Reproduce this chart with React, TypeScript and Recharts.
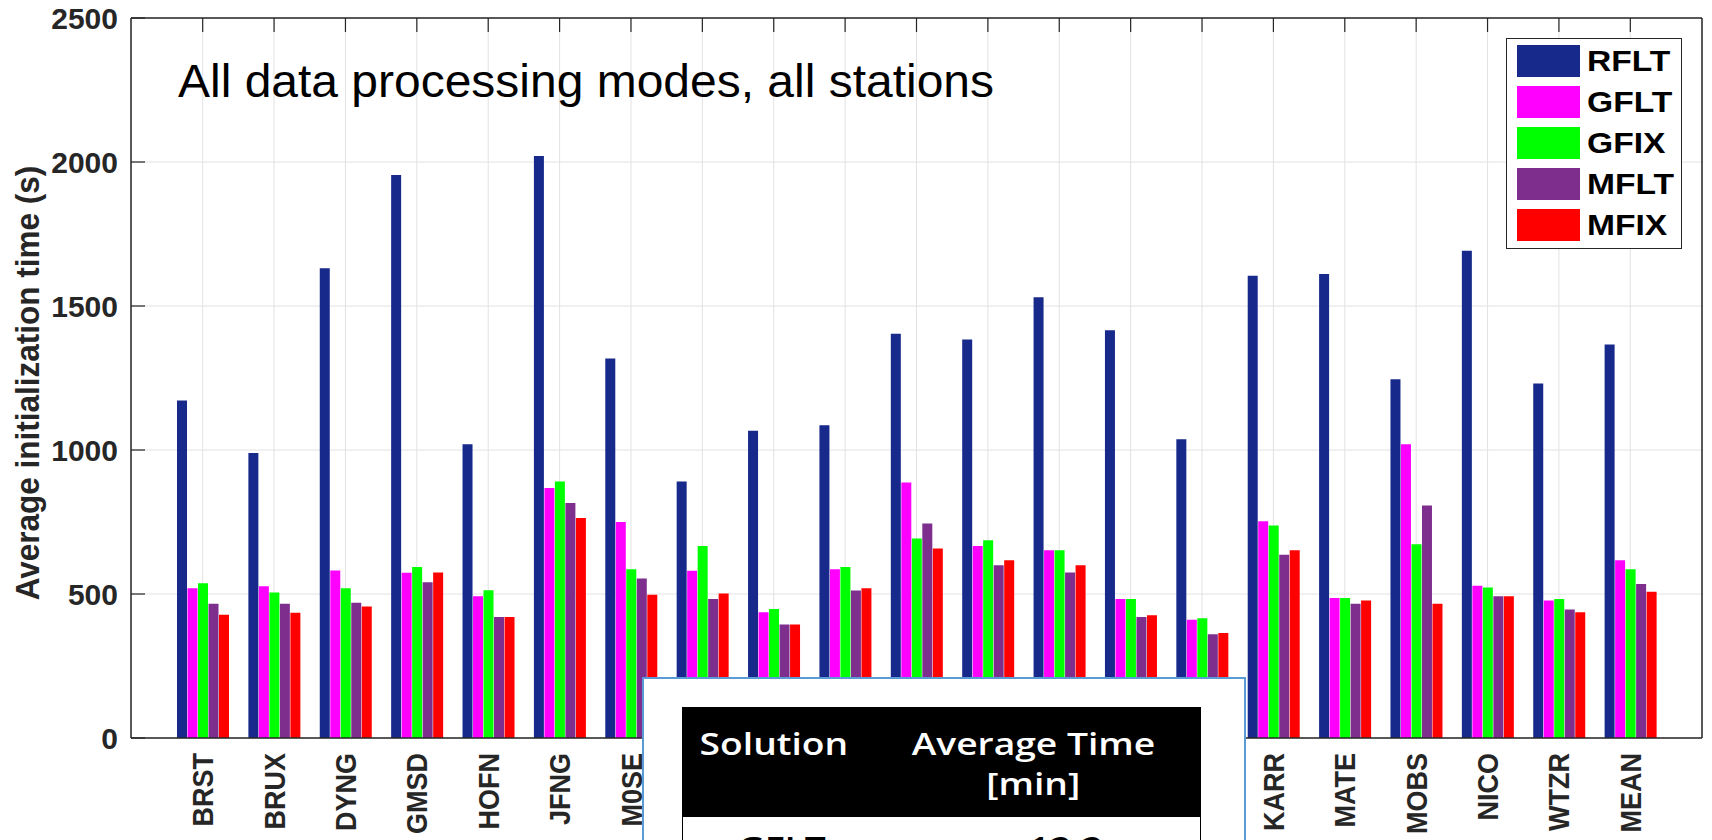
import React from 'react';
import { BarChart, Bar, XAxis, YAxis, CartesianGrid, Legend } from 'recharts';

// stations 8-15 sit under the pasted table in the source figure
const stations = ['BRST', 'BRUX', 'DYNG', 'GMSD', 'HOFN', 'JFNG', 'M0SE', 'ONSA', 'POTS', 'REDU', 'SGOC', 'TLSE', 'UNB3', 'YEL2', 'HARB', 'KARR', 'MATE', 'MOBS', 'NICO', 'WTZR', 'MEAN'];

const rflt = [1172, 990, 1631, 1955, 1020, 2021, 1318, 891, 1067, 1086, 1404, 1384, 1530, 1416, 1037, 1605, 1611, 1246, 1692, 1231, 1366];
const gflt = [520, 527, 582, 574, 492, 868, 750, 581, 437, 586, 887, 667, 652, 483, 411, 753, 486, 1020, 529, 477, 617];
const gfix = [537, 505, 520, 594, 513, 891, 586, 667, 448, 594, 693, 687, 652, 483, 416, 738, 486, 673, 523, 483, 586];
const mflt = [466, 466, 470, 541, 420, 816, 554, 483, 394, 512, 745, 600, 575, 420, 360, 636, 466, 807, 492, 446, 535];
const mfix = [428, 435, 457, 575, 420, 764, 497, 502, 394, 520, 658, 617, 600, 426, 365, 652, 477, 466, 492, 437, 508];

const seriesNames = ['RFLT', 'GFLT', 'GFIX', 'MFLT', 'MFIX'];
const seriesColors = ['#17298A', '#FF00FF', '#00FF00', '#7E2F8E', '#FF0000'];
const yTicks = [0, 500, 1000, 1500, 2000, 2500];

const tableHead = ['Solution', 'Average Time', '[min]'];
const tableRow = ['GFLT', '12.2'];

const data = stations.map((s, i) => ({
    station: s,
    RFLT: rflt[i],
    GFLT: gflt[i],
    GFIX: gfix[i],
    MFLT: mflt[i],
    MFIX: mfix[i],
}));

const FONT = '"Liberation Sans", Arial, sans-serif';
const TABLE_FONT = '"Open Sans", "Noto Sans", sans-serif';
const INK = '#262626';
const TICK = 14;

// the source figure was stretched sideways when pasted, so axis text is a bit wide
const StationTick = (props: any) => {
    const { x, y, payload } = props;
    return (
        <text
            transform={`translate(${x}, ${y}) rotate(-90) scale(1, 1.12)`}
            textAnchor="end"
            dominantBaseline="central"
            fontSize={27}
            fontWeight="bold"
            fontFamily={FONT}
            fill={INK}
        >
            {payload.value}
        </text>
    );
};

const LeftTick = (props: any) => {
    const { x, y, payload } = props;
    return (
        <g>
            <line x1={x + 13} x2={x + 13 + TICK} y1={y} y2={y} stroke={INK} strokeWidth={1.2} />
            <text x={x} y={y} textAnchor="end" dominantBaseline="central" fontSize={30} fontWeight="bold" fontFamily={FONT} fill={INK}>
                {payload.value}
            </text>
        </g>
    );
};

const TopTick = (props: any) => {
    const { x, y } = props;
    return <line x1={x} x2={x} y1={y} y2={y + TICK} stroke={INK} strokeWidth={1.2} />;
};

const RightTick = (props: any) => {
    const { x, y } = props;
    return <line x1={x - TICK} x2={x} y1={y} y2={y} stroke={INK} strokeWidth={1.2} />;
};

const YLabel = (props: any) => {
    const { viewBox } = props;
    const cx = viewBox.x + 27;
    const cy = viewBox.y + viewBox.height / 2 + 5;
    return (
        <text
            transform={`translate(${cx}, ${cy}) rotate(-90) scale(1, 1.08)`}
            textAnchor="middle"
            dominantBaseline="central"
            fontSize={31.5}
            fontWeight="bold"
            fontFamily={FONT}
            fill={INK}
        >
            Average initialization time (s)
        </text>
    );
};

const LegendBox = (props: any) => {
    const items = [...props.payload].sort((a: any, b: any) => seriesNames.indexOf(a.value) - seriesNames.indexOf(b.value));
    return (
        <div style={{ width: 176, height: 211, boxSizing: 'border-box', border: `1.5px solid ${INK}`, background: '#fff', paddingTop: 1, paddingLeft: 9.5 }}>
            {items.map((entry: any) => (
                <div key={entry.value} style={{ display: 'flex', alignItems: 'center', height: 41 }}>
                    <div style={{ width: 63, height: 32, background: entry.color }} />
                    <span style={{ marginLeft: 7, fontFamily: FONT, fontWeight: 'bold', fontSize: 30, color: '#000', lineHeight: '32px', display: 'inline-block', transform: 'scaleX(1.12)', transformOrigin: 'left center' }}>
                        {entry.value}
                    </span>
                </div>
            ))}
        </div>
    );
};

const wide = { display: 'inline-block', transform: 'scaleX(1.2)' };

const App = () => {
    return (
        <div style={{ position: 'absolute', left: 0, top: 0, width: 1712, height: 840, overflow: 'hidden', background: '#fff' }}>
            <BarChart
                width={1712}
                height={840}
                data={data}
                margin={{ top: 17, right: 9, bottom: 0, left: 0 }}
                barGap={0.5}
            >
                <CartesianGrid stroke="#e2e2e2" strokeWidth={1} />
                <XAxis
                    dataKey="station"
                    height={102}
                    padding={{ left: 36, right: 36 }}
                    interval={0}
                    tickLine={false}
                    tickSize={0}
                    tickMargin={15}
                    tick={<StationTick />}
                    axisLine={{ stroke: INK, strokeWidth: 1.5 }}
                />
                <XAxis
                    xAxisId="top"
                    orientation="top"
                    dataKey="station"
                    height={1}
                    padding={{ left: 36, right: 36 }}
                    interval={0}
                    tickLine={false}
                    tickSize={0}
                    tickMargin={0}
                    tick={<TopTick />}
                    axisLine={{ stroke: INK, strokeWidth: 1.5 }}
                />
                <YAxis
                    width={131}
                    domain={[0, 2500]}
                    ticks={yTicks}
                    interval={0}
                    tickLine={false}
                    tickSize={0}
                    tickMargin={13}
                    tick={<LeftTick />}
                    axisLine={{ stroke: INK, strokeWidth: 1.5 }}
                    label={{ content: <YLabel /> }}
                />
                <YAxis
                    yAxisId="right"
                    orientation="right"
                    width={1}
                    domain={[0, 2500]}
                    ticks={yTicks}
                    interval={0}
                    tickLine={false}
                    tickSize={0}
                    tickMargin={0}
                    tick={<RightTick />}
                    axisLine={{ stroke: INK, strokeWidth: 1.5 }}
                />
                <Legend
                    layout="vertical"
                    align="center"
                    verticalAlign="middle"
                    content={<LegendBox />}
                    wrapperStyle={{ left: 1506, top: 38, width: 176, height: 211, right: 'auto', bottom: 'auto' }}
                />
                {seriesNames.map((name, i) => (
                    <Bar key={name} dataKey={name} fill={seriesColors[i]} barSize={10} isAnimationActive={false} />
                ))}
            </BarChart>

            {/* title */}
            <svg width={1712} height={840} style={{ position: 'absolute', left: 0, top: 0, pointerEvents: 'none' }}>
                <text x={178} y={97} fontSize={46} fontFamily={FONT} fill="#000" textLength={816} lengthAdjust="spacingAndGlyphs">
                    All data processing modes, all stations
                </text>
            </svg>

            {/* pasted table */}
            <div style={{ position: 'absolute', left: 642, top: 677, width: 604, height: 220, boxSizing: 'border-box', border: '2px solid #5B9BD5', background: '#fff' }}>
                <div style={{ position: 'absolute', left: 38, top: 28, width: 519, height: 110, background: '#000', color: '#fff', fontFamily: TABLE_FONT, fontWeight: 600, fontSize: 31, lineHeight: '40px' }}>
                    <div style={{ position: 'absolute', left: 0, width: 184, top: 16, textAlign: 'center' }}>
                        <span style={wide}>{tableHead[0]}</span>
                    </div>
                    <div style={{ position: 'absolute', left: 184, width: 335, top: 16, textAlign: 'center' }}>
                        <div><span style={wide}>{tableHead[1]}</span></div>
                        <div><span style={wide}>{tableHead[2]}</span></div>
                    </div>
                </div>
                <div style={{ position: 'absolute', left: 38, top: 138, width: 519, height: 70, boxSizing: 'border-box', border: '1.5px solid #000', borderTop: 'none', color: '#000', fontFamily: TABLE_FONT, fontWeight: 600, fontSize: 31, lineHeight: '40px' }}>
                    <div style={{ position: 'absolute', left: 0, width: 198, top: 10, textAlign: 'center' }}>
                        <span style={wide}>{tableRow[0]}</span>
                    </div>
                    <div style={{ position: 'absolute', left: 316, width: 134, top: 10, textAlign: 'center' }}>
                        <span style={wide}>{tableRow[1]}</span>
                    </div>
                </div>
            </div>
        </div>
    );
};

export default App;
